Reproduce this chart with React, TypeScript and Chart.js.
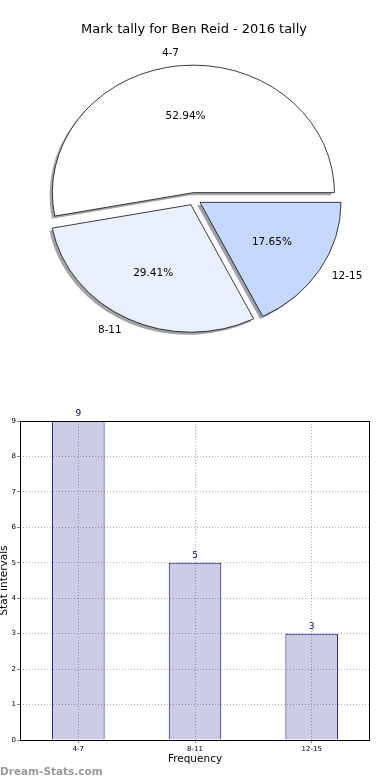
import React, { useEffect, useRef } from 'react';
import { Chart, registerables } from 'chart.js';

Chart.register(...registerables);

const TITLE = 'Mark tally for Ben Reid - 2016 tally';
const CATEGORIES = ['4-7', '8-11', '12-15'];
const COUNTS = [9, 5, 3];
const PIE_COLORS = ['#FFFFFF', '#EAF0FF', '#C5D8FF'];
const Y_MAX = 9;
const X_TITLE = 'Frequency';
const Y_TITLE = 'Stat intervals';
const WATERMARK = 'Dream-Stats.com';

const FONT = "'DejaVu Sans', sans-serif";
const RX = 141;
const RY = 127.5;
const EXPLODE = 0.05;
const LABEL_DIST = 1.1;
const PCT_DIST = 0.6;

function shadowColor(hex: string) {
  const n = parseInt(hex.slice(1), 16);
  const r = Math.round(((n >> 16) & 255) * 0.3);
  const g = Math.round(((n >> 8) & 255) * 0.3);
  const b = Math.round((n & 255) * 0.3);
  return `rgba(${r},${g},${b},0.5)`;
}

const pieDecor = {
  id: 'pieDecor',
  beforeDatasetsDraw(chart: any) {
    const ctx = chart.ctx;
    const arcs = chart.getDatasetMeta(0).data;
    const cx = arcs[0].x;
    const cy = arcs[0].y;
    const k = RY / RX;
    ctx.save();
    ctx.translate(cx, cy);
    ctx.scale(1, k);
    ctx.translate(-cx, -cy);
    const colors = chart.data.datasets[0].backgroundColor;
    arcs.forEach((a: any, i: number) => {
      const mid = (a.startAngle + a.endAngle) / 2;
      const e = EXPLODE * a.outerRadius;
      const sx = -0.02 * a.outerRadius;
      const sy = 0.02 * a.outerRadius;
      const ox = a.x + Math.cos(mid) * e + sx;
      const oy = a.y + Math.sin(mid) * e + sy;
      ctx.beginPath();
      ctx.moveTo(ox, oy);
      ctx.arc(ox, oy, a.outerRadius, a.startAngle, a.endAngle);
      ctx.closePath();
      ctx.fillStyle = shadowColor(colors[i]);
      ctx.fill();
      if (!a.__exploded) {
        const orig = a.draw;
        a.draw = function (c: any, area: any) {
          c.save();
          const m = (this.startAngle + this.endAngle) / 2;
          const ee = EXPLODE * this.outerRadius;
          c.translate(Math.cos(m) * ee, Math.sin(m) * ee);
          orig.call(this, c, area);
          c.restore();
        };
        a.__exploded = true;
      }
    });
  },
  afterDatasetsDraw(chart: any) {
    const ctx = chart.ctx;
    ctx.restore();
    const arcs = chart.getDatasetMeta(0).data;
    const data = chart.data.datasets[0].data as number[];
    const labels = chart.data.labels as string[];
    const total = data.reduce((s, v) => s + v, 0);
    const k = RY / RX;
    ctx.save();
    ctx.fillStyle = '#000';
    ctx.font = `10.5px ${FONT}`;
    ctx.textBaseline = 'middle';
    arcs.forEach((a: any, i: number) => {
      const mid = (a.startAngle + a.endAngle) / 2;
      const ux = Math.cos(mid);
      const uy = Math.sin(mid);
      const rx = a.outerRadius;
      const ry = a.outerRadius * k;
      const lx = a.x + (EXPLODE + LABEL_DIST) * rx * ux;
      const ly = a.y + (EXPLODE + LABEL_DIST) * ry * uy;
      ctx.textAlign = ux > 0 ? 'left' : 'right';
      ctx.fillText(labels[i], lx, ly);
      const px = a.x + (EXPLODE + PCT_DIST) * rx * ux;
      const py = a.y + (EXPLODE + PCT_DIST) * ry * uy;
      ctx.textAlign = 'center';
      ctx.fillText(((data[i] / total) * 100).toFixed(2) + '%', px, py);
    });
    ctx.restore();
  },
};

const barLabels = {
  id: 'barLabels',
  afterDraw(chart: any) {
    const ctx = chart.ctx;
    const meta = chart.getDatasetMeta(0);
    const data = chart.data.datasets[0].data as number[];
    ctx.save();
    ctx.fillStyle = '#000080';
    ctx.font = `9px ${FONT}`;
    ctx.textAlign = 'center';
    ctx.textBaseline = 'alphabetic';
    meta.data.forEach((bar: any, i: number) => {
      ctx.fillText(String(data[i]), bar.x, bar.y - 5);
    });
    const { left, top, right, bottom } = chart.chartArea;
    ctx.strokeStyle = '#000';
    ctx.lineWidth = 1;
    ctx.strokeRect(Math.round(left) + 0.5, Math.round(top) + 0.5, Math.round(right - left) - 1, Math.round(bottom - top));
    ctx.restore();
  },
};

export default function App() {
  const pieRef = useRef<HTMLCanvasElement | null>(null);
  const barRef = useRef<HTMLCanvasElement | null>(null);

  useEffect(() => {
    const pieLabels = [...CATEGORIES].reverse();
    const pieData = [...COUNTS].reverse();
    const pieColors = [...PIE_COLORS].reverse();
    const pie = new Chart(pieRef.current as HTMLCanvasElement, {
      type: 'pie',
      data: {
        labels: pieLabels,
        datasets: [
          {
            data: pieData,
            backgroundColor: pieColors,
            borderColor: '#000',
            borderWidth: 0.8,
            clip: false as any,
          },
        ],
      },
      options: {
        responsive: false,
        animation: false,
        devicePixelRatio: 1,
        events: [],
        rotation: 90,
        radius: RX,
        layout: { padding: { left: 53, right: 55, top: 0, bottom: 29.6 } },
        plugins: {
          legend: { display: false },
          tooltip: { enabled: false },
          title: {
            display: true,
            text: TITLE,
            color: '#000',
            font: { family: FONT, size: 13, weight: 'normal' },
            padding: { top: 22, bottom: 0 },
          },
        },
      } as any,
      plugins: [pieDecor],
    });

    const bar = new Chart(barRef.current as HTMLCanvasElement, {
      type: 'bar',
      data: {
        labels: CATEGORIES,
        datasets: [
          {
            data: COUNTS,
            backgroundColor: '#CCCCE5',
            borderColor: '#000080',
            borderWidth: 1,
            barPercentage: 0.45,
            categoryPercentage: 1,
          },
        ],
      },
      options: {
        responsive: false,
        animation: false,
        devicePixelRatio: 1,
        events: [],
        layout: { padding: { left: 0, right: 20, top: 31, bottom: 0 } },
        plugins: {
          legend: { display: false },
          tooltip: { enabled: false },
        },
        scales: {
          x: {
            offset: true,
            grid: {
              offset: false,
              color: 'rgba(0,0,0,0.3)',
              z: 1,
              tickLength: 3,
              tickColor: 'rgba(0,0,0,0.5)',
            },
            border: { display: false, dash: [1, 2] },
            ticks: { color: '#000', font: { family: FONT, size: 7 }, padding: 2, maxRotation: 0 },
            title: {
              display: true,
              text: X_TITLE,
              color: '#000',
              font: { family: FONT, size: 10.5 },
              padding: { top: 0, bottom: 14 },
            },
            afterFit: (s: any) => {
              s.height = 40;
            },
          },
          y: {
            min: 0,
            max: Y_MAX,
            grid: {
              color: 'rgba(0,0,0,0.3)',
              z: 1,
              tickLength: 3,
              tickColor: 'rgba(0,0,0,0.5)',
            },
            border: { display: false, dash: [1, 2] },
            ticks: { stepSize: 1, color: '#000', font: { family: FONT, size: 7 }, padding: 1 },
            title: {
              display: true,
              text: Y_TITLE,
              color: '#000',
              font: { family: FONT, size: 10.5, lineHeight: 0.8 },
              padding: 0,
            },
            afterFit: (s: any) => {
              s.width = 20;
            },
          },
        },
      } as any,
      plugins: [barLabels],
    });

    return () => {
      pie.destroy();
      bar.destroy();
    };
  }, []);

  return (
    <div style={{ position: 'fixed', left: 0, top: 0, width: 390, height: 780, background: '#fff' }}>
      <canvas ref={pieRef} width={390} height={390} style={{ position: 'absolute', left: 0, top: 0 }} />
      <canvas ref={barRef} width={390} height={390} style={{ position: 'absolute', left: 0, top: 390 }} />
      <div
        style={{
          position: 'absolute',
          left: 0,
          top: 763,
          fontFamily: FONT,
          fontSize: 10.5,
          fontWeight: 'bold',
          lineHeight: '16px',
          color: '#9a9a9a',
          whiteSpace: 'nowrap',
        }}
      >
        {WATERMARK}
      </div>
    </div>
  );
}
